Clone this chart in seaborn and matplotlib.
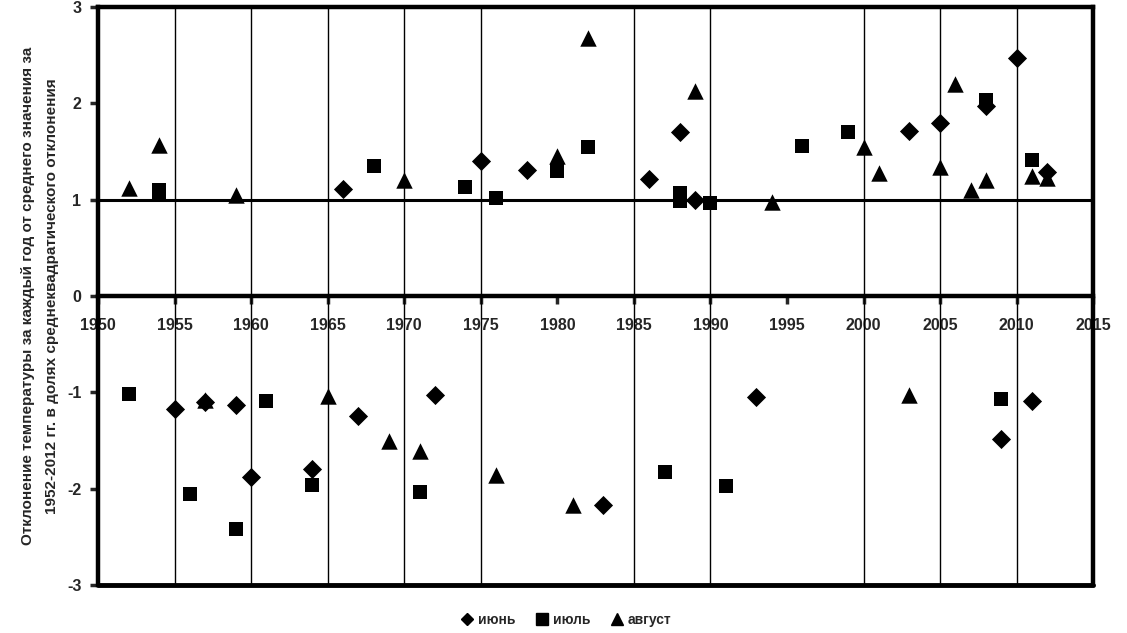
import numpy as np
import pandas as pd
import matplotlib
matplotlib.use("Agg")
import matplotlib.pyplot as plt
import seaborn as sns

# июнь (diamonds)
june_years = [1955, 1957, 1959, 1960, 1964, 1966, 1967, 1972, 1975, 1978, 1983,
              1986, 1988, 1989, 1993, 2003, 2005, 2008, 2009, 2010, 2011, 2012]
june_vals = [-1.17, -1.10, -1.13, -1.88, -1.80, 1.11, -1.25, -1.03, 1.40, 1.31, -2.17,
             1.22, 1.70, 1.00, -1.05, 1.71, 1.80, 1.97, -1.48, 2.47, -1.09, 1.29]

# июль (squares)
july_years = [1952, 1954, 1954, 1956, 1959, 1961, 1964, 1968, 1971, 1974, 1976,
              1980, 1982, 1987, 1988, 1988, 1990, 1991, 1996, 1999, 2008, 2009, 2011]
july_vals = [-1.02, 1.10, 1.06, -2.06, -2.42, -1.09, -1.96, 1.35, -2.03, 1.13, 1.02,
             1.30, 1.55, -1.83, 1.07, 0.99, 0.97, -1.97, 1.56, 1.70, 2.04, -1.07, 1.41]

# август (triangles)
aug_years = [1952, 1954, 1957, 1959, 1965, 1969, 1970, 1971, 1976, 1980, 1981,
             1982, 1989, 1994, 2000, 2001, 2003, 2005, 2006, 2007, 2008, 2011, 2012]
aug_vals = [1.12, 1.57, -1.08, 1.05, -1.04, -1.51, 1.20, -1.61, -1.86, 1.45, -2.17,
            2.68, 2.13, 0.98, 1.55, 1.28, -1.03, 1.34, 2.20, 1.10, 1.20, 1.25, 1.23]

month_names = ["июнь", "июль", "август"]
x_ticks = [1950, 1955, 1960, 1965, 1970, 1975, 1980, 1985, 1990, 1995, 2000, 2005, 2010, 2015]
grid_years = [1955, 1960, 1965, 1970, 1975, 1985, 1990, 2000, 2005, 2010]
y_ticks = [-3, -2, -1, 0, 1, 2, 3]

ylabel = ("Отклонение температуры за каждый год от среднего значения за\n"
          "1952-2012 гг. в долях среднеквадратического отклонения")

sns.set_style("white")
plt.rcParams['font.family'] = ['Liberation Sans', 'DejaVu Sans']
plt.rcParams['axes.unicode_minus'] = False

fig = plt.figure(figsize=(11.27, 6.33), dpi=100)
ax = fig.add_axes([0.087, 0.0758, 0.883, 0.913])

for yr in grid_years:
    ax.axvline(yr, color="black", lw=1.0, zorder=1)
ax.axhline(1, color="black", lw=2.2, zorder=1)
ax.axhline(-3, color="black", lw=3.5, zorder=3, clip_on=False)

series = [
    (june_years, june_vals, "D", 95),
    (july_years, july_vals, "s", 110),
    (aug_years, aug_vals, "^", 140),
]
for yrs, vals, mk, size in series:
    sns.scatterplot(x=yrs, y=vals, marker=mk, s=size, color="black",
                    linewidth=0, legend=False, ax=ax, zorder=4)

ax.set_xlim(1950, 2015)
ax.set_ylim(-3, 3)
ax.set_xticks(x_ticks)
ax.set_yticks(y_ticks)
ax.set_xlabel("")
ax.set_ylabel(ylabel, fontsize=11, fontweight="bold", labelpad=6,
              linespacing=1.9)

ax.spines["bottom"].set_position(("data", 0))
for sp in ax.spines.values():
    sp.set_linewidth(3.2)
    sp.set_color("black")
    sp.set_zorder(3)

ax.tick_params(axis="x", direction="out", length=6, width=2.5, pad=10,
               labelsize=11.5, bottom=True)
ax.tick_params(axis="y", direction="out", length=6, width=2.5, pad=6,
               labelsize=11.5, left=True)
for lab in ax.get_xticklabels() + ax.get_yticklabels():
    lab.set_fontweight("bold")

handles = [
    plt.Line2D([], [], marker="D", color="black", ls="", markersize=6),
    plt.Line2D([], [], marker="s", color="black", ls="", markersize=9),
    plt.Line2D([], [], marker="^", color="black", ls="", markersize=9),
]
fig.legend(handles, month_names, loc="center", bbox_to_anchor=(0.502, 0.021),
           ncol=3, frameon=False, handletextpad=0.3, handlelength=1.0,
           columnspacing=1.4, prop={"weight": "bold", "size": 10})

fig.savefig("out.png", dpi=100)
